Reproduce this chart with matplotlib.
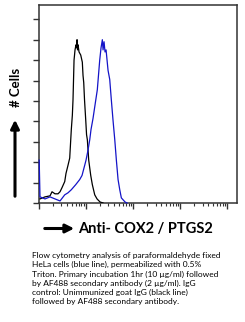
import matplotlib
matplotlib.use('Agg')
import matplotlib.pyplot as plt
import numpy as np

# log10 of fluorescence intensity and cell counts
control_log = [0.021, 0.128, 0.234, 0.277, 0.340, 0.404, 0.447, 0.489, 0.547, 0.574,
               0.617, 0.653, 0.687, 0.709, 0.723, 0.745, 0.766, 0.787, 0.800, 0.809,
               0.820, 0.830, 0.851, 0.887, 0.921, 0.936, 0.951, 0.968, 0.994, 1.011,
               1.028, 1.057, 1.100, 1.134, 1.185, 1.234, 1.298, 1.362]
control_counts = [4, 6, 7, 11, 9, 9, 11, 15, 21, 29,
                  37, 44, 72, 86, 101, 140, 150, 155, 152, 160,
                  150, 155, 148, 145, 138, 125, 118, 101, 81, 67,
                  62, 42, 27, 18, 8, 4, 1, 0]

cox2_log = [0.004, 0.021, 0.128, 0.234, 0.340, 0.447, 0.547, 0.617, 0.687, 0.781,
            0.866, 0.915, 0.972, 1.000, 1.043, 1.079, 1.106, 1.149, 1.191, 1.240,
            1.291, 1.319, 1.347, 1.362, 1.383, 1.404, 1.426, 1.447, 1.468, 1.504,
            1.521, 1.538, 1.574, 1.611, 1.645, 1.681, 1.717, 1.751, 1.830, 1.872]
cox2_counts = [42, 6, 4, 6, 4, 2, 8, 10, 13, 18,
               23, 27, 37, 42, 52, 62, 72, 83, 96, 111,
               140, 152, 160, 150, 158, 148, 150, 140, 130, 121,
               111, 101, 81, 62, 42, 23, 13, 5, 1, 0]

y_ticks = [0, 20, 40, 60, 80, 100, 120, 140, 160, 180]

x_label = 'Anti- COX2 / PTGS2'
y_label = '# Cells'
caption = [
    'Flow cytometry analysis of paraformaldehyde fixed',
    'HeLa cells (blue line), permeabilized with 0.5%',
    'Triton. Primary incubation 1hr (10 \u00b5g/ml) followed',
    'by AF488 secondary antibody (2 \u00b5g/ml). IgG',
    'control: Unimmunized goat IgG (black line)',
    'followed by AF488 secondary antibody.',
]

W, H = 245, 322
fig = plt.figure(figsize=(W / 100, H / 100), dpi=100)
ax = fig.add_axes([39 / W, 1 - 203 / H, (237 - 39) / W, (203 - 5) / H])

ax.plot(10 ** np.array(control_log), control_counts, color='black', lw=0.9, zorder=3)
ax.plot(10 ** np.array(cox2_log), cox2_counts, color='#1414c8', lw=0.9, zorder=3, clip_on=False)

ax.set_xscale('log')
ax.set_xlim(1, 10 ** 4.21)
ax.set_ylim(0, 194)
ax.set_yticks(y_ticks)
ax.set_yticklabels([])
ax.set_xticks([1, 10, 100, 1000, 10000])
minor = [m * 10 ** d for d in range(4) for m in range(2, 10)]
ax.set_xticks(minor, minor=True)
ax.set_xticklabels([])
ax.set_xticklabels([], minor=True)
ax.tick_params(which='major', direction='out', length=4, width=1, color='#333333')
ax.tick_params(which='minor', direction='out', length=2.5, width=0.8, color='#333333')
for s in ax.spines.values():
    s.set_linewidth(1.1)
    s.set_color('#333333')
    s.set_zorder(2)

# y label with arrow
fig.text(16 / W, 1 - 87 / H, y_label, rotation=90, ha='center', va='center',
         fontsize=9.5, fontweight='bold', family=['Lato', 'DejaVu Sans'])
fig.patches.append(matplotlib.patches.FancyArrowPatch(
    (15 / W, 1 - 199 / H), (15 / W, 1 - 117 / H), transform=fig.transFigure,
    arrowstyle='-|>,head_length=5,head_width=2.5', mutation_scale=1, lw=2.2, color='black'))

# x label with arrow
fig.patches.append(matplotlib.patches.FancyArrowPatch(
    (42 / W, 1 - 228.5 / H), (77 / W, 1 - 228.5 / H), transform=fig.transFigure,
    arrowstyle='-|>,head_length=5,head_width=2.5', mutation_scale=1, lw=2.2, color='black'))
fig.text(78 / W, 1 - 228.5 / H, x_label, ha='left', va='center',
         fontsize=10.5, fontweight='bold', family=['Lato', 'DejaVu Sans'])

for i, line in enumerate(caption):
    fig.text(32 / W, 1 - (252 + i * 9.2) / H, line, ha='left', va='top',
             fontsize=6.0, family=['Lato', 'DejaVu Sans'])

fig.savefig('out.png', dpi=100)
